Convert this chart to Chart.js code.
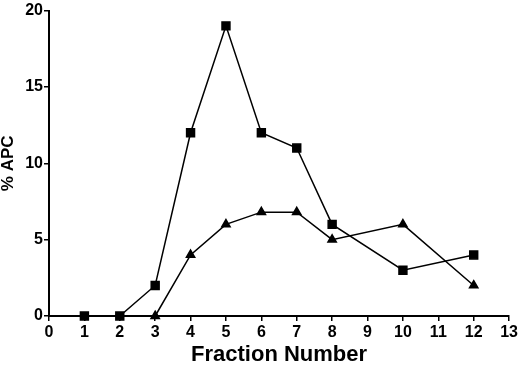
<!DOCTYPE html>
<html>
<head>
<meta charset="utf-8">
<script src="https://cdn.jsdelivr.net/npm/chart.js@4/dist/chart.umd.min.js"></script>
<style>
  html, body { margin: 0; padding: 0; background: #fff; }
  #wrap { width: 520px; height: 371px; position: relative; }
</style>
</head>
<body>
<div id="wrap"><canvas id="chartCanvas"></canvas></div>
<script>
const squareX = [1, 2, 3, 4, 5, 6, 7, 8, 10, 12];
const squareY = [0, 0, 2, 12, 19, 12, 11, 6, 3, 4];
const triangleX = [3, 4, 5, 6, 7, 8, 10, 12];
const triangleY = [0, 4, 6, 6.8, 6.8, 5, 6, 2];

const toPoints = (xs, ys) => xs.map((x, i) => ({ x: x, y: ys[i] }));

const tickFont = { family: "Liberation Sans", weight: "bold", size: 16 };

const chartContext = document.getElementById("chartCanvas");

let chart = new Chart(chartContext, {
  type: "scatter",
  data: {
    datasets: [
      {
        data: toPoints(squareX, squareY),
        borderColor: "#000",
        backgroundColor: "#000",
        borderWidth: 1.5,
        showLine: true,
        pointStyle: "rect",
        pointRadius: 5.6,
        clip: false,
      },
      {
        data: toPoints(triangleX, triangleY),
        borderColor: "#000",
        backgroundColor: "#000",
        borderWidth: 1.5,
        showLine: true,
        pointStyle: "triangle",
        pointRadius: 4.8,
        clip: false,
      },
    ],
  },
  options: {
    responsive: true,
    maintainAspectRatio: false,
    animation: false,
    layout: { padding: { left: 0, right: 9, top: 10, bottom: 0 } },
    plugins: {
      legend: { display: false },
      tooltip: { enabled: false },
    },
    elements: {
      point: { borderWidth: 0 },
    },
    scales: {
      x: {
        type: "linear",
        min: 0,
        max: 13,
        afterFit: (scale) => { scale.height = 55; },
        border: { color: "#000", width: 2 },
        grid: { display: true, drawOnChartArea: false, color: "#000", tickLength: 5, lineWidth: 1.5 },
        ticks: { stepSize: 1, color: "#000", font: tickFont, padding: 2, maxRotation: 0 },
        title: {
          display: true,
          text: "Fraction Number",
          color: "#000",
          font: { family: "Liberation Sans", weight: "bold", size: 22, lineHeight: 1 },
          padding: { top: 0, bottom: 5 },
        },
      },
      y: {
        type: "linear",
        min: 0,
        max: 20,
        afterFit: (scale) => { scale.width = 49; },
        border: { color: "#000", width: 2 },
        grid: { display: true, drawOnChartArea: false, color: "#000", tickLength: 5, lineWidth: 1.5 },
        ticks: { stepSize: 5, color: "#000", font: tickFont, padding: 1 },
        title: {
          display: true,
          text: "% APC",
          color: "#000",
          font: { family: "Liberation Sans", weight: "bold", size: 17, lineHeight: 1 },
          padding: 0,
        },
      },
    },
  },
});
</script>
</body>
</html>
